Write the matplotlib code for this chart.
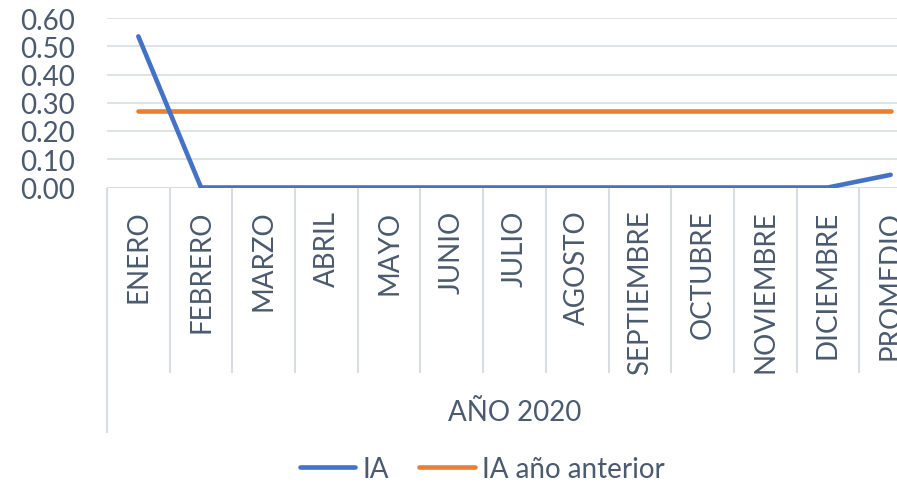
import matplotlib.pyplot as plt

plt.rcParams['font.family'] = ['Lato', 'DejaVu Sans']

meses = ['ENERO', 'FEBRERO', 'MARZO', 'ABRIL', 'MAYO', 'JUNIO', 'JULIO',
         'AGOSTO', 'SEPTIEMBRE', 'OCTUBRE', 'NOVIEMBRE', 'DICIEMBRE', 'PROMEDIO']
ia = [0.535, 0, 0, 0, 0, 0, 0, 0, 0, 0, 0, 0, 0.045]
ia_anterior = [0.27] * 13
grupo = 'AÑO 2020'

texto = '#4B5A6E'
gris = '#D9DDE3'

W, H = 897, 489
fig = plt.figure(figsize=(W / 100, H / 100), dpi=100)
# el area de grafico se sale por la derecha, como en el original
ax = fig.add_axes([107 / W, 1 - 188.5 / H, 815 / W, 169.5 / H])

x = list(range(len(meses)))
ax.plot(x, ia_anterior, color='#ED7D31', lw=3.3, solid_capstyle='round', label='IA año anterior', zorder=3)
ax.plot(x, ia, color='#4472C4', lw=3.3, solid_capstyle='round', solid_joinstyle='round', label='IA', zorder=4)

ax.set_xlim(-0.5, 12.5)
ax.set_ylim(0, 0.6)
ax.set_yticks([0, 0.1, 0.2, 0.3, 0.4, 0.5, 0.6])
ax.set_yticklabels([f'{v:.2f}' for v in ax.get_yticks()])
ax.grid(axis='y', color=gris, lw=1.2)
ax.set_axisbelow(True)
for s in ax.spines.values():
    s.set_visible(False)
ax.tick_params(axis='y', length=0, pad=23, labelsize=20, labelcolor=texto)

ax.set_xticks(x)
ax.set_xticklabels(meses, rotation=90, va='top', ha='center')
ax.tick_params(axis='x', length=0, pad=16, labelsize=20, labelcolor=texto)

# separadores de categorias
trans = ax.get_xaxis_transform()
ax.axhline(0, color=gris, lw=1.5, zorder=1)
ax.vlines([i + 0.5 for i in x], 0, -(373 - 188) / 169, color=gris, lw=1.5, transform=trans, clip_on=False)
ax.vlines([-0.5], 0, -(433 - 188) / 169, color=gris, lw=1.5, transform=trans, clip_on=False)
ax.text(6, -(412 - 188) / 169, grupo, transform=trans, ha='center', va='center', fontsize=20, color=texto)

h, l = ax.get_legend_handles_labels()
fig.legend(h[::-1], l[::-1], loc='center', bbox_to_anchor=(482 / W, 1 - 470 / H), ncol=2, frameon=False,
           fontsize=20, labelcolor=texto, handlelength=2.0, columnspacing=1.1, handletextpad=0.25)

fig.savefig('out.png', dpi=100)
